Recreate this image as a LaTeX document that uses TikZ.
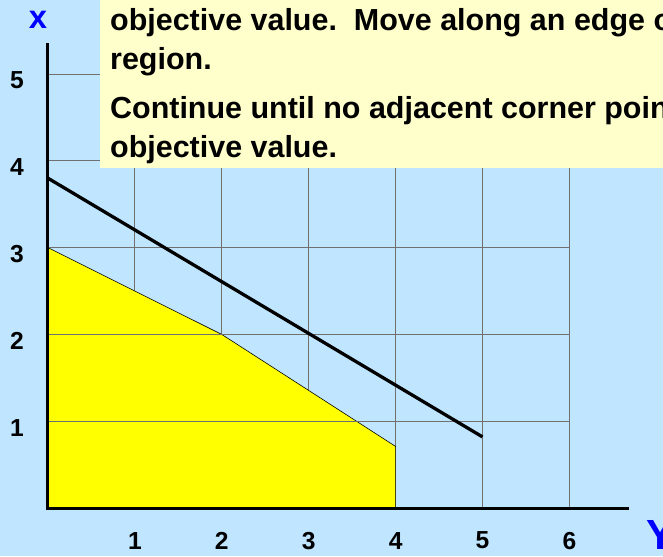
\documentclass[tikz,border=0pt]{standalone}
\usepackage{fontspec}
\setmainfont{Liberation Sans}
\usetikzlibrary{positioning}
\definecolor{celeste}{HTML}{C0E6FF}
\definecolor{crema}{HTML}{FFFFCC}
\definecolor{amarillo}{HTML}{FFFF00}
\definecolor{azulrey}{HTML}{0000FF}
\definecolor{grisrej}{HTML}{707070}
\tikzset{
  rejilla/.style={draw=grisrej, line width=0.8pt},
  eje/.style={draw=black, line width=2.6pt},
  recta/.style={draw=black, line width=2.8pt},
  region/.style={fill=amarillo, draw=black, line width=0.5pt},
  marca/.style={font=\fontsize{21}{24}\selectfont\bfseries, inner sep=0pt},
  nombreeje/.style={font=\bfseries, text=azulrey, inner sep=0pt},
  nota/.style={font=\fontsize{26}{33.3}\selectfont\bfseries, align=left, inner sep=0pt}
}
\begin{document}
\begin{tikzpicture}[x=2.607cm, y=2.604cm]
  \useasboundingbox (-0.552,-0.553) rectangle (7.077,5.853);
  \clip (-0.552,-0.553) rectangle (7.077,5.853);
  \fill [celeste] (-0.552,-0.553) rectangle (7.077,5.853);
  % rejilla vertical, debajo de la region
  \foreach \i in {1,...,6} \draw [rejilla] (\i,0) -- (\i,5);
  \draw [region] (0,0) -- (0,3) -- (2,2) -- (4,0.71) -- (4,0) -- cycle;
  \foreach \j in {1,...,5} \draw [rejilla] (0,\j) -- (6,\j);
  \draw [recta] (0,3.8) -- (5,0.82);
  \draw [eje] (0,5.357) -- (0,0) -- (6.686,0);
  % rotulos de los ejes
  \foreach \i in {1,...,6} \node (tx\i) [marca] at (\i,-0.375) {\i};
  \foreach \j in {1,...,5} \node (ty\j) [marca] at (-0.357,\j-0.075) {\j};
  \node (nx) [nombreeje, font=\fontsize{28}{30}\selectfont\bfseries] at (-0.115,5.63) {x};
  \node (ny) [nombreeje, font=\fontsize{36}{40}\selectfont\bfseries, anchor=west] at (6.88,-0.31) {Y};
  % cuadro de texto
  \fill [crema] (0.598,3.917) rectangle (7.2,6);
  \node (txt) [nota, anchor=base west] at (0.713,4.044)
    {objective value.\ \ Move along an edge of the feasible\\ region.\\[7.7pt]
     Continue until no adjacent corner point has a better\\ objective value.};
\end{tikzpicture}
\end{document}
